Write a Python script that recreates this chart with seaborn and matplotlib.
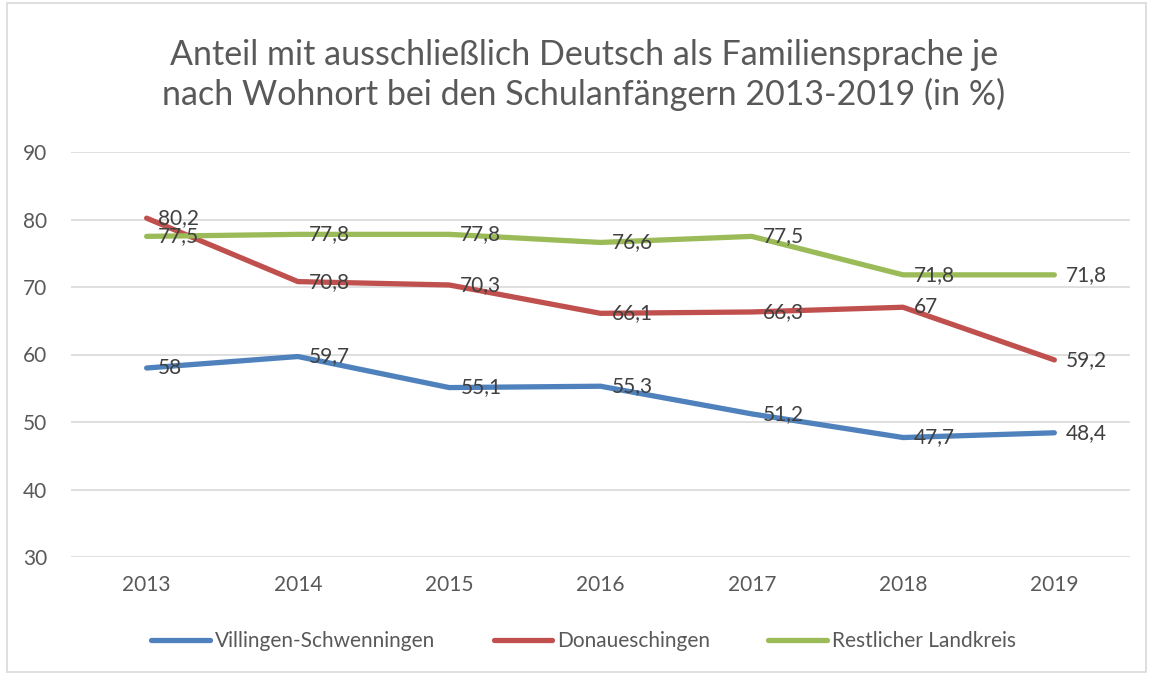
import pandas as pd
import numpy as np
import matplotlib
matplotlib.use('Agg')
import matplotlib.pyplot as plt
import seaborn as sns
from matplotlib.patches import Rectangle

# Daten
jahre = ['2013', '2014', '2015', '2016', '2017', '2018', '2019']
villingen = [58, 59.7, 55.1, 55.3, 51.2, 47.7, 48.4]
donau = [80.2, 70.8, 70.3, 66.1, 66.3, 67, 59.2]
rest = [77.5, 77.8, 77.8, 76.6, 77.5, 71.8, 71.8]
serien = ['Villingen-Schwenningen', 'Donaueschingen', 'Restlicher Landkreis']
farben = ['#4F81BD', '#C0504D', '#9BBB59']

df = pd.DataFrame({
    'jahr': jahre * 3,
    'wert': villingen + donau + rest,
    'ort': [serien[0]] * 7 + [serien[1]] * 7 + [serien[2]] * 7,
})

sns.set_theme(style='white')
plt.rcParams['font.family'] = ['Lato', 'DejaVu Sans']
textfarbe = '#595959'

fig = plt.figure(figsize=(11.49, 6.75), dpi=100)
ax = fig.add_axes([71 / 1149, 1 - 557 / 675, 1059 / 1149, 405 / 675])

sns.lineplot(data=df, x='jahr', y='wert', hue='ort', palette=farben,
             linewidth=3.8, ax=ax, legend=True, sort=False)

# Datenbeschriftungen
for name, werte in zip(serien, [villingen, donau, rest]):
    for i, w in enumerate(werte):
        txt = ('%g' % w).replace('.', ',')
        ax.annotate(txt, (i, w), xytext=(8, 0), textcoords='offset points',
                    ha='left', va='center', fontsize=15, color='#404040')

ax.set_xlim(-0.5, 6.5)
ax.set_ylim(30, 90)
ax.set_yticks([30, 40, 50, 60, 70, 80, 90])
ax.yaxis.grid(True, color='#D9D9D9', linewidth=1.2)
ax.set_xlabel('')
ax.set_ylabel('')
for s in ax.spines.values():
    s.set_visible(False)
ax.tick_params(axis='both', labelsize=15, colors=textfarbe, length=0)
ax.tick_params(axis='x', pad=13)
ax.tick_params(axis='y', pad=17)

ax.get_legend().remove()
handles = [plt.Line2D([0], [0], color=c, linewidth=3.8) for c in farben]
fig.legend(handles, serien, loc='center', bbox_to_anchor=(0.508, 1 - 641 / 675),
           ncol=3, frameon=False, fontsize=15, handlelength=2.8,
           handletextpad=0.25, columnspacing=2.8, labelcolor=textfarbe)

fig.text(0.508, 1 - 75 / 675,
         'Anteil mit ausschließlich Deutsch als Familiensprache je\n'
         'nach Wohnort bei den Schulanfängern 2013-2019 (in %)',
         ha='center', va='center', fontsize=24.5, color=textfarbe,
         linespacing=1.25)

fig.patches.append(Rectangle((7 / 1149, 3 / 675), 1139 / 1149, 669 / 675,
                             transform=fig.transFigure, fill=False,
                             edgecolor='#D9D9D9', linewidth=1.2))

fig.savefig('out.png', dpi=100)
